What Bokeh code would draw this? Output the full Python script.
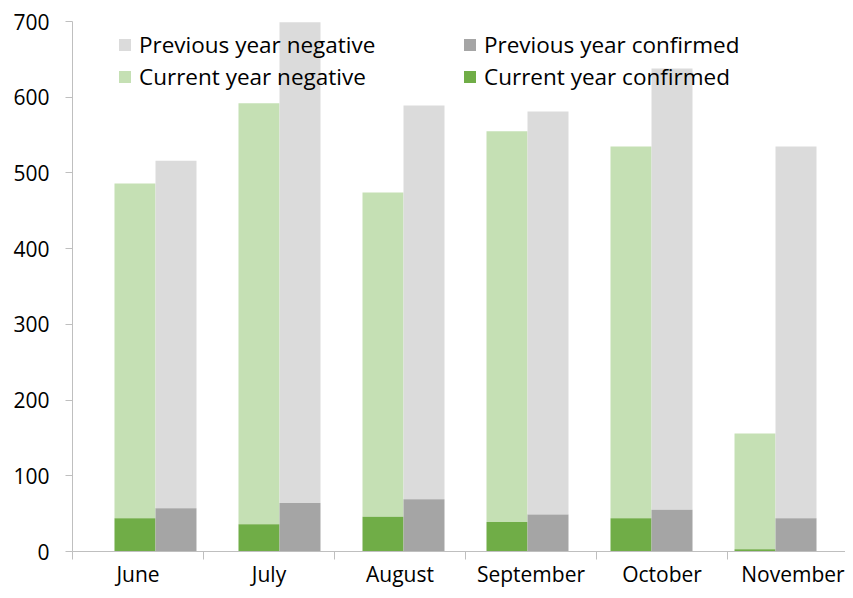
from bokeh.plotting import figure
from bokeh.models import ColumnDataSource, FixedTicker, Legend, LegendItem, Range1d
from bokeh.embed import file_html
from bokeh.resources import INLINE

months = ["June", "July", "August", "September", "October", "November"]
current_confirmed = [44, 36, 46, 39, 44, 3]
current_negative = [442, 556, 428, 516, 491, 153]
previous_confirmed = [57, 64, 69, 49, 55, 44]
previous_negative = [459, 635, 520, 532, 583, 491]
y_ticks = [0, 100, 200, 300, 400, 500, 600, 700]

FONT = "Open Sans"
FS = "21px"
LFS = "22.5px"
C_CONF = "#70AD47"
C_NEG = "#C5E0B4"
P_CONF = "#A5A5A5"
P_NEG = "#DBDBDB"
AX = "#BFBFBF"

W, H = 845, 590
LEFT, TOP, BOTTOM = 72, 21, 39
CAT_PX = 131

step = 0.9466
bw = 0.313
n = len(months)
cur_x = [0.477 + step * i for i in range(n)]
prev_x = [0.790 + step * i for i in range(n)]

src = ColumnDataSource(dict(
    cx=cur_x, px=prev_x,
    cc=current_confirmed,
    ct=[a + b for a, b in zip(current_confirmed, current_negative)],
    pc=previous_confirmed,
    pt=[a + b for a, b in zip(previous_confirmed, previous_negative)],
    zero=[0] * n,
))

p = figure(width=W, height=H, output_backend="svg", toolbar_location=None,
           x_range=Range1d(0, (W - LEFT) / CAT_PX), y_range=Range1d(0, 700))
p.min_border_left = LEFT
p.min_border_right = 0
p.min_border_top = TOP
p.min_border_bottom = BOTTOM
p.outline_line_color = None
p.xgrid.visible = False
p.ygrid.visible = False

r_cn = p.vbar(x="cx", width=bw, bottom="cc", top="ct", source=src, fill_color=C_NEG, line_color=None)
r_cc = p.vbar(x="cx", width=bw, bottom="zero", top="cc", source=src, fill_color=C_CONF, line_color=None)
r_pn = p.vbar(x="px", width=bw, bottom="pc", top="pt", source=src, fill_color=P_NEG, line_color=None)
r_pc = p.vbar(x="px", width=bw, bottom="zero", top="pc", source=src, fill_color=P_CONF, line_color=None)

# axes
yax = p.yaxis[0]
yax.ticker = FixedTicker(ticks=y_ticks)
yax.axis_line_color = AX
yax.major_tick_line_color = AX
yax.major_tick_out = 7
yax.major_tick_in = 0
yax.minor_tick_line_color = None
yax.major_label_text_font = FONT
yax.major_label_text_font_size = FS
yax.major_label_text_color = "#000000"
yax.major_label_standoff = 16

xax = p.xaxis[0]
xax.ticker = FixedTicker(ticks=[i + 0.5 for i in range(n)], minor_ticks=list(range(n + 1)))
xax.major_label_overrides = {i + 0.5: m for i, m in enumerate(months)}
xax.axis_line_color = AX
xax.major_tick_line_color = None
xax.major_tick_out = 0
xax.major_tick_in = 0
xax.minor_tick_line_color = AX
xax.minor_tick_out = 8
xax.minor_tick_in = 0
xax.major_label_text_font = FONT
xax.major_label_text_font_size = FS
xax.major_label_text_color = "#000000"
xax.major_label_standoff = 0

def add_leg(label, r, loc):
    lg = Legend(items=[LegendItem(label=label, renderers=[r])], location=loc,
                background_fill_alpha=0, border_line_alpha=0, padding=0, margin=0,
                glyph_width=15, glyph_height=15, label_standoff=7,
                label_text_font=FONT, label_text_font_size=LFS,
                label_text_color="#000000", label_height=22)
    p.add_layout(lg, "center")

add_leg("Previous year negative", r_pn, (45, 491))
add_leg("Previous year confirmed", r_pc, (390, 491))
add_leg("Current year negative", r_cn, (45, 459))
add_leg("Current year confirmed", r_cc, (390, 459))

open("out.html", "w").write(file_html(p, INLINE))
